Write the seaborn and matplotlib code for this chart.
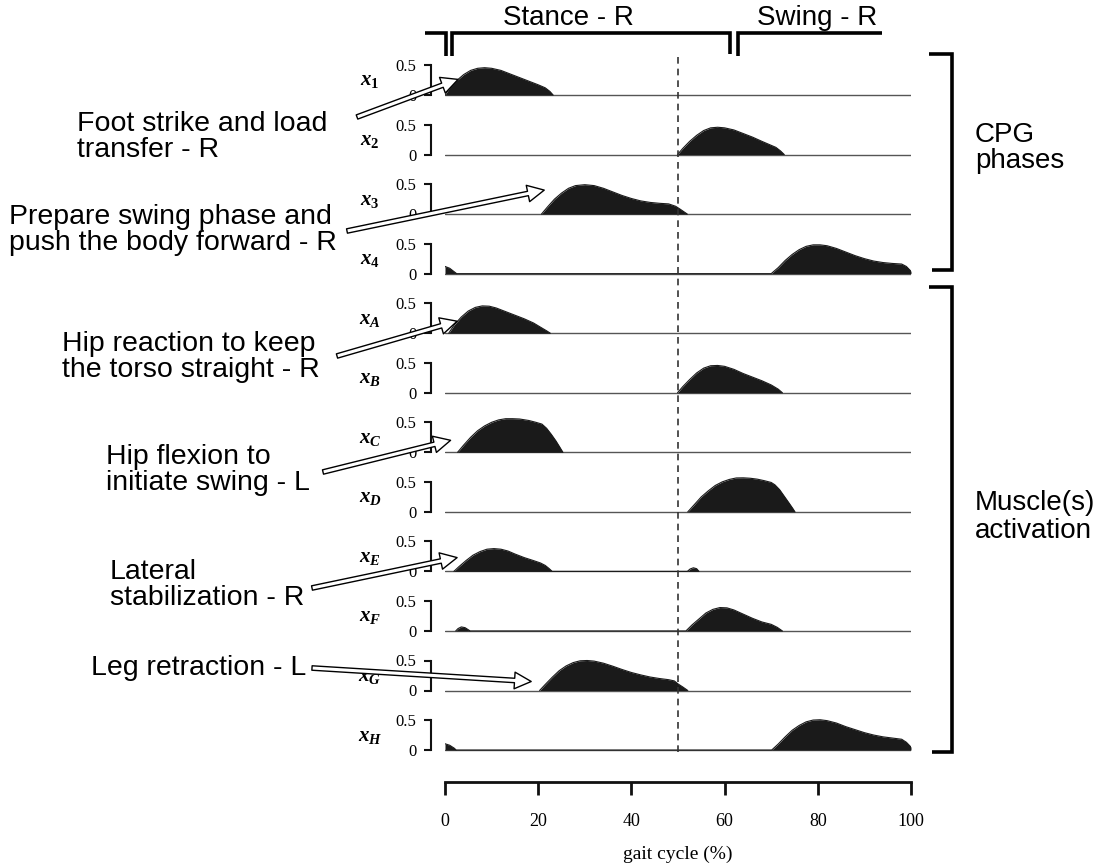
import numpy as np
import pandas as pd
import matplotlib
matplotlib.use('Agg')
import matplotlib.pyplot as plt
import seaborn as sns

# ---------------- data ----------------
series_names = ['x1', 'x2', 'x3', 'x4', 'xA', 'xB', 'xC', 'xD', 'xE', 'xF', 'xG', 'xH']
row_labels = [r'$x_1$', r'$x_2$', r'$x_3$', r'$x_4$', r'$x_A$', r'$x_B$',
              r'$x_C$', r'$x_D$', r'$x_E$', r'$x_F$', r'$x_G$', r'$x_H$']

x1_gait = [0, 1, 2.5, 4, 5.5, 7, 8.5, 10, 12, 14, 16, 18, 20, 21.5, 22.5, 23.2]
x1_act = [0, 0.12, 0.24, 0.34, 0.41, 0.445, 0.455, 0.445, 0.41, 0.35, 0.29, 0.23, 0.17, 0.12, 0.06, 0]

x2_gait = [49.9, 51, 52.5, 54, 55.5, 57, 58.5, 60, 62, 64, 66, 68, 69.5, 71, 72, 72.8]
x2_act = [0, 0.1, 0.22, 0.32, 0.4, 0.445, 0.455, 0.445, 0.41, 0.35, 0.29, 0.22, 0.17, 0.12, 0.06, 0]

x3_gait = [20.7, 22, 23.5, 25, 26.5, 28, 30, 32, 34, 36, 38, 40, 42, 44, 46, 48, 49.5, 50.5, 52]
x3_act = [0, 0.12, 0.25, 0.35, 0.43, 0.475, 0.49, 0.475, 0.43, 0.37, 0.31, 0.26, 0.22, 0.195, 0.18, 0.17, 0.13, 0.08, 0]

x4_gait = [0, 1, 2, 2.5, 70, 71.5, 73, 74.5, 76, 77.5, 79, 80.5, 82, 84, 86, 88, 90, 92, 94, 96, 98, 99, 100]
x4_act = [0.12, 0.09, 0.03, 0, 0, 0.1, 0.22, 0.32, 0.4, 0.455, 0.48, 0.48, 0.465, 0.42, 0.36, 0.3, 0.25, 0.21, 0.185, 0.17, 0.16, 0.12, 0.04]

xA_gait = [0.8, 2, 3.5, 5, 6.5, 8, 9.5, 11, 13, 15, 17, 19, 20.5, 21.8, 22.6]
xA_act = [0, 0.14, 0.27, 0.37, 0.43, 0.455, 0.45, 0.42, 0.36, 0.3, 0.24, 0.17, 0.1, 0.04, 0]

xB_gait = [49.9, 51, 52.5, 54, 55.5, 57, 58.5, 60, 62, 64, 66, 68, 70, 71.5, 72.4]
xB_act = [0, 0.1, 0.22, 0.33, 0.41, 0.45, 0.455, 0.44, 0.39, 0.32, 0.26, 0.2, 0.13, 0.06, 0]

xC_gait = [2.7, 4, 5.5, 7, 8.5, 10, 11.5, 13, 14.5, 16, 18, 19.5, 20.8, 21.8, 22.8, 23.8, 24.6, 25.3]
xC_act = [0, 0.12, 0.25, 0.36, 0.44, 0.5, 0.54, 0.56, 0.56, 0.555, 0.53, 0.5, 0.47, 0.4, 0.3, 0.19, 0.09, 0]

xD_gait = [52.1, 53.5, 55, 56.5, 58, 59.5, 61, 62.5, 64, 65.5, 67, 68.5, 70, 70.8, 71.8, 72.8, 73.8, 74.6, 75.1]
xD_act = [0, 0.12, 0.25, 0.35, 0.44, 0.5, 0.54, 0.565, 0.567, 0.56, 0.545, 0.52, 0.49, 0.45, 0.37, 0.26, 0.15, 0.06, 0]

xE_gait = [1.9, 3, 4.5, 6, 7.5, 9, 10.5, 12, 13.5, 15, 17, 19, 20.5, 21.5, 22.3, 23, 52, 52.6, 53.3, 54, 54.5]
xE_act = [0, 0.08, 0.18, 0.27, 0.33, 0.37, 0.38, 0.37, 0.34, 0.29, 0.23, 0.18, 0.14, 0.1, 0.05, 0, 0, 0.04, 0.06, 0.045, 0]

xF_gait = [2.3, 2.8, 3.5, 4.3, 5, 5.4, 51.7, 53, 54.5, 56, 57.5, 59, 60.5, 62, 64, 66, 68, 70, 71.3, 72.4]
xF_act = [0, 0.04, 0.067, 0.055, 0.02, 0, 0, 0.1, 0.2, 0.3, 0.36, 0.39, 0.385, 0.35, 0.28, 0.21, 0.15, 0.11, 0.06, 0]

xG_gait = [20.3, 21.5, 23, 24.5, 26, 27.5, 29, 30.5, 32, 34, 36, 38, 40, 42, 44, 46, 48, 49.2, 50, 51, 52.1]
xG_act = [0, 0.1, 0.22, 0.33, 0.41, 0.465, 0.495, 0.5, 0.49, 0.455, 0.405, 0.35, 0.3, 0.26, 0.225, 0.2, 0.18, 0.16, 0.11, 0.06, 0]

xH_gait = [0, 1, 2, 2.4, 70.1, 71.5, 73, 74.5, 76, 77.5, 79, 80.5, 82, 84, 86, 88, 90, 92, 94, 96, 98, 99, 100]
xH_act = [0.105, 0.08, 0.03, 0, 0, 0.1, 0.22, 0.33, 0.41, 0.47, 0.5, 0.505, 0.49, 0.45, 0.39, 0.34, 0.29, 0.25, 0.22, 0.2, 0.18, 0.13, 0.05]

gait_ticks = [0, 20, 40, 60, 80, 100]
act_ticks = [0, 0.5]
act_tick_labels = ['0', '0.5']
stance_end = 50

annotations = [
    "Foot strike and load\ntransfer - R",
    "Prepare swing phase and\npush the body forward - R",
    "Hip reaction to keep\nthe torso straight - R",
    "Hip flexion to\ninitiate swing - L",
    "Lateral\nstabilization - R",
    "Leg retraction - L",
]
annotation_targets = ['x1', 'x3', 'xA', 'xC', 'xE', 'xG']
annotation_head_gait = [2.8, 21.3, 2.6, 1.2, 2.6, 18.5]
annotation_head_act = [0.26, 0.4, 0.2, 0.2, 0.23, 0.15]

phase_labels = ['Stance - R', 'Swing - R']
group_labels = ['CPG\nphases', 'Muscle(s)\nactivation']

# ---------------- build long table ----------------
all_data = {
    'x1': (x1_gait, x1_act), 'x2': (x2_gait, x2_act), 'x3': (x3_gait, x3_act),
    'x4': (x4_gait, x4_act), 'xA': (xA_gait, xA_act), 'xB': (xB_gait, xB_act),
    'xC': (xC_gait, xC_act), 'xD': (xD_gait, xD_act), 'xE': (xE_gait, xE_act),
    'xF': (xF_gait, xF_act), 'xG': (xG_gait, xG_act), 'xH': (xH_gait, xH_act),
}
frames = []
for name in series_names:
    g, a = all_data[name]
    frames.append(pd.DataFrame({'series': name, 'gait': g, 'act': a}))
df = pd.concat(frames, ignore_index=True)

# ---------------- style ----------------
sns.set_theme(style='white')
plt.rcParams['font.family'] = ['Liberation Sans', 'DejaVu Sans']
plt.rcParams['text.color'] = 'black'
plt.rcParams['axes.labelcolor'] = 'black'
plt.rcParams['xtick.color'] = 'black'
plt.rcParams['ytick.color'] = 'black'
plt.rcParams['mathtext.fontset'] = 'custom'
plt.rcParams['mathtext.it'] = 'Liberation Serif:italic:bold'
plt.rcParams['mathtext.rm'] = 'Liberation Serif:bold'
plt.rcParams['mathtext.bf'] = 'Liberation Serif:bold'

SERIF = 'Liberation Serif'
FILL = '#1a1a1a'
W, H = 1111, 864
fig = plt.figure(figsize=(W / 100, H / 100), dpi=100)
fig.patch.set_facecolor('white')


def fx(px):
    return px / W


def fy(py):
    return 1 - py / H


X0, X1 = 445, 911          # pixel span of gait 0..100
BASE0, STEP, UNIT = 95, 59.55, 60.0
YMIN = -0.1

axes = {}
for i, name in enumerate(series_names):
    base = BASE0 + i * STEP
    bottom_px = base - YMIN * UNIT
    ax = fig.add_axes([fx(X0), fy(bottom_px), fx(X1) - fx(X0), STEP / H])
    ax.patch.set_alpha(0)
    sub = df[df['series'] == name]
    ax.axhline(0, color='#555555', lw=1.0, zorder=1)
    ax.fill_between(sub['gait'], sub['act'], 0, color=FILL, lw=0, zorder=2)
    sns.lineplot(data=sub, x='gait', y='act', ax=ax, color=FILL, lw=0.8,
                 sort=False, estimator=None, zorder=3)
    ax.set_xlim(0, 100)
    ax.set_ylim(YMIN, YMIN + STEP / UNIT)
    for s in ['top', 'right', 'bottom']:
        ax.spines[s].set_visible(False)
    ax.spines['left'].set_position(('outward', 10))
    ax.spines['left'].set_bounds(0, 0.5)
    ax.spines['left'].set_linewidth(1.5)
    ax.spines['left'].set_color('#111111')
    ax.set_xticks([])
    ax.set_yticks(act_ticks)
    ax.set_yticklabels(act_tick_labels, fontfamily=SERIF, fontsize=12)
    ax.tick_params(axis='y', direction='out', length=5, width=1.5,
                   color='#111111', pad=5.5, left=True)
    ax.set_xlabel('')
    ax.set_ylabel('')
    fig.text(fx(370), fy(base - 14), row_labels[i], ha='center', va='center',
             fontsize=15, color='black')
    axes[name] = ax

# bottom gait-cycle axis
axb = fig.add_axes([fx(X0), fy(782), fx(X1) - fx(X0), 0.0001])
axb.patch.set_alpha(0)
axb.set_xlim(0, 100)
axb.set_yticks([])
for s in ['top', 'right', 'left']:
    axb.spines[s].set_visible(False)
axb.spines['bottom'].set_linewidth(2)
axb.spines['bottom'].set_color('#111111')
axb.set_xticks(gait_ticks)
axb.set_xticklabels([str(t) for t in gait_ticks], fontfamily=SERIF, fontsize=13)
axb.tick_params(axis='x', direction='out', length=9.5, width=2, color='#111111',
                pad=13, bottom=True)
axb.set_xlabel('gait cycle (%)', fontfamily=SERIF, fontsize=14, labelpad=11)

# dashed line at end of stance
axd = fig.add_axes([fx(X0), fy(752), fx(X1) - fx(X0), (752 - 57) / H])
axd.patch.set_alpha(0)
axd.set_xlim(0, 100)
axd.axis('off')
axd.axvline(stance_end, color='#333333', lw=1.2, ls=(0, (4, 3)))

# overlay for annotations (pixel coordinates)
ov = fig.add_axes([0, 0, 1, 1], zorder=10)
ov.patch.set_alpha(0)
ov.set_xlim(0, W)
ov.set_ylim(H, 0)
ov.axis('off')

BR = dict(color='black', lw=2.6, solid_capstyle='butt', solid_joinstyle='miter')
# top phase brackets
ov.plot([425, 446, 446], [33, 33, 56], **BR)
ov.plot([452, 452, 730, 730], [56, 33, 33, 54], **BR)
ov.plot([738, 738, 882], [56, 33, 33], **BR)
ov.text(568, 18, phase_labels[0], ha='center', va='center', fontsize=20)
ov.text(817, 18, phase_labels[1], ha='center', va='center', fontsize=20)

# right group brackets
ov.plot([929, 952, 952, 932], [54, 54, 270, 270], **BR)
ov.plot([929, 952, 952, 932], [287, 287, 752, 752], **BR)
ov.text(975, 148, group_labels[0], ha='left', va='center', fontsize=20, linespacing=1.05)
ov.text(975, 517, group_labels[1], ha='left', va='center', fontsize=20, linespacing=1.05)

# left annotations with hollow arrows
text_pos = [(77, 137), (9, 230), (62, 357), (106, 470), (110, 585), (91, 668)]
tail_pos = [(357, 117), (347, 231), (337, 356), (323, 472), (312, 588), (312, 668)]
for txt, (tx, ty), (ax_, ay_), tgt, hg, ha_ in zip(annotations, text_pos, tail_pos,
                                                  annotation_targets,
                                                  annotation_head_gait,
                                                  annotation_head_act):
    ov.text(tx, ty, txt, ha='left', va='center', fontsize=20.5, linespacing=1.03,
            multialignment='left')
    ov.annotate('', xy=(hg, ha_), xycoords=axes[tgt].transData,
                xytext=(ax_, ay_), textcoords='data',
                arrowprops=dict(arrowstyle='simple,head_length=1.2,head_width=1.2,tail_width=0.32',
                                fc='white', ec='black', lw=1.0, shrinkA=0, shrinkB=0,
                                mutation_scale=10),
                annotation_clip=False)

fig.savefig('out.png', dpi=100, facecolor='white')
